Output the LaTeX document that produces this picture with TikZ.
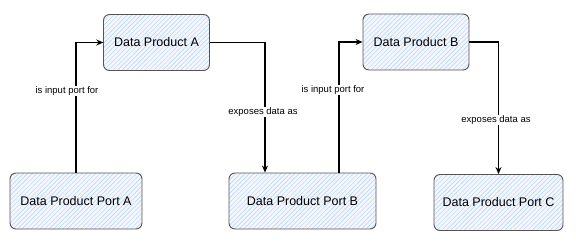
\documentclass[tikz,border=0pt]{standalone}
\usepackage{fontspec}
\setmainfont{Liberation Sans}
\usepackage{tikz}
\usepackage{xcolor}
\usetikzlibrary{arrows.meta, positioning, calc, patterns.meta}
\definecolor{BoxBlue}{HTML}{F2F7FD}
\definecolor{HatchBlue}{HTML}{B8D0F0}
\definecolor{BoxBorder}{HTML}{555555}
\tikzset{
    % Node styles - sketchy blue boxes
    productbox/.style={
        rectangle,
        rounded corners=6pt,
        draw=BoxBorder,
        line width=0.9pt,
        preaction={fill=BoxBlue},
        pattern={Lines[angle=45,distance=3.2pt,line width=0.45pt]},
        pattern color=HatchBlue,
        minimum width=106pt,
        minimum height=56pt,
        text centered,
        font=\fontsize{12.5}{14}\selectfont
    },
    portbox/.style={
        productbox,
        minimum width=132pt
    },
    % Arrow styles
    myarrow/.style={
        -{Stealth[length=7pt,width=6pt]},
        line width=1.1pt,
        black
    },
    % Label styles
    edgelabel/.style={
        fill=white,
        inner sep=1pt,
        font=\fontsize{9.5}{11}\selectfont
    }
}
\begin{document}
\begin{tikzpicture}[x=1pt, y=-1pt]
                \useasboundingbox (0,0) rectangle (576,242);

                % Products
                \node[productbox] (proda) at (156.5,42.5) {Data Product A};
                \node[productbox] (prodb) at (416,42) {Data Product B};

                % Ports
                \node[portbox] (porta) at (76,201) {Data Product Port A};
                \node[portbox,minimum width=147pt] (portb) at (302.5,201) {Data Product Port B};
                \node[portbox,minimum width=129pt] (portc) at (498.5,202.5) {Data Product Port C};

                % Connectors
                \draw[myarrow] (porta.north) |- (proda.west);
                \draw[myarrow] (proda.east) -| ([xshift=-37.5pt]portb.north);
                \draw[myarrow] ([xshift=36.5pt]portb.north) |- (prodb.west);
                \draw[myarrow] (prodb.east) -| (portc.north);

                % Connector labels
                \node[edgelabel] (lblina) at (67,91) {is input port for};
                \node[edgelabel] (lblexa) at (263,112) {exposes data as};
                \node[edgelabel] (lblinb) at (333,90) {is input port for};
                \node[edgelabel] (lblexb) at (496,120) {exposes data as};
\end{tikzpicture}
\end{document}
